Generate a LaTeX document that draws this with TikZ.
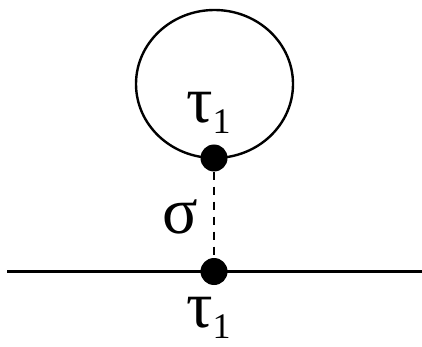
\documentclass[tikz,border=0pt]{standalone}
\usepackage{fontspec}
\setmainfont{Liberation Serif}
\tikzset{
  dot/.style={circle,fill=black,minimum size=27pt,inner sep=0pt},
  lbl/.style={inner sep=0pt,anchor=base west},
  edge/.style={line width=2.4pt},
}
\newcommand{\biglbl}[1]{\fontsize{66}{68}\selectfont #1}
\newcommand{\subone}{\raisebox{-11pt}{\fontsize{36}{38}\selectfont 1}}
\begin{document}
\begin{tikzpicture}[x=1pt,y=-1pt]
\useasboundingbox (0,0) rectangle (422,347);
\draw[edge] (214.5,84) ellipse [x radius=78.5pt, y radius=74pt];
\coordinate (L) at (7,271.5);
\coordinate (R) at (422,271.5);
\draw[edge] (L) -- (R);
\node[dot] (d1) at (214,158) {};
\node[dot] (d2) at (214,271.5) {};
\draw[edge,dash pattern=on 8pt off 7pt] (d1) -- (d2);
\node[lbl] (t1) at (186,123) {\biglbl{τ}\subone};
\node[lbl] (s) at (162,233) {\biglbl{σ}};
\node[lbl] (t2) at (186,327) {\biglbl{τ}\subone};
\end{tikzpicture}
\end{document}
